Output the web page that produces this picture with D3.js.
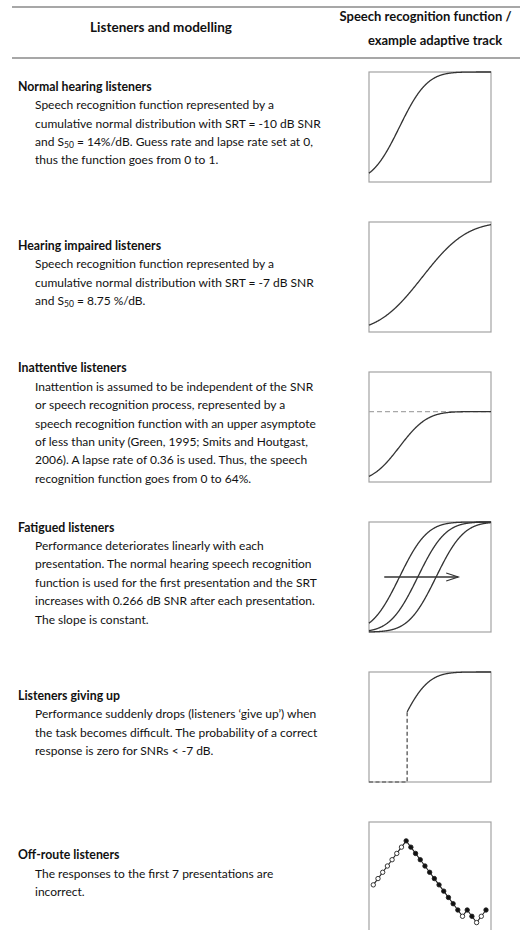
<!DOCTYPE html>
<html><head><meta charset="utf-8">
<script src="https://cdn.jsdelivr.net/npm/d3@7"></script>
<style>html,body{margin:0;padding:0;background:#fff}</style>
</head><body><svg id="chart" width="520" height="930"></svg>
<script>
// ---------- content ----------
const headerLeft = "Listeners and modelling";
const headerRight = ["Speech recognition function /", "example adaptive track"];

const panelTitles = [
  "Normal hearing listeners",
  "Hearing impaired listeners",
  "Inattentive listeners",
  "Fatigued listeners",
  "Listeners giving up",
  "Off-route listeners"
];
// "_50" marks a subscript
const panelBodies = [
  ["Speech recognition function represented by a",
   "cumulative normal distribution with SRT = -10 dB SNR",
   "and S_50 = 14%/dB. Guess rate and lapse rate set at 0,",
   "thus the function goes from 0 to 1."],
  ["Speech recognition function represented by a",
   "cumulative normal distribution with SRT = -7 dB SNR",
   "and S_50 = 8.75 %/dB."],
  ["Inattention is assumed to be independent of the SNR",
   "or speech recognition process, represented by a",
   "speech recognition function with an upper asymptote",
   "of less than unity (Green, 1995; Smits and Houtgast,",
   "2006). A lapse rate of 0.36 is used. Thus, the speech",
   "recognition function goes from 0 to 64%."],
  ["Performance deteriorates linearly with each",
   "presentation. The normal hearing speech recognition",
   "function is used for the first presentation and the SRT",
   "increases with 0.266 dB SNR after each presentation.",
   "The slope is constant."],
  ["Performance suddenly drops (listeners \u2018give up\u2019) when",
   "the task becomes difficult. The probability of a correct",
   "response is zero for SNRs < -7 dB."],
  ["The responses to the first 7 presentations are",
   "incorrect."]
];

// ---------- model parameters ----------
const snrDomain = [-14, 2];            // dB SNR shown in the function panels
const normalSRT = -10, normalSlope = 0.14;
const impairedSRT = -7, impairedSlope = 0.0875;
const lapseRate = 0.36;
const fatigueSRTs = [-10, -7.6, -5.2]; // presentations 1, 10, 19
const fatigueArrow = [-12, -2.3];      // dB SNR span of the arrow
const giveUpDomain = [-12, 4];
const giveUpSRT = -8, giveUpCutoff = -7;

// adaptive track: SNR per presentation (dB) and response (1 = correct)
const trackSNR = [0, 2, 4, 6, 8, 10, 12, 14, 12, 10, 8, 6, 4, 2, 0, -2, -4, -6, -8, -10, -8, -10, -12, -10, -8];
const trackCorrect = [0, 0, 0, 0, 0, 0, 0, 1, 1, 1, 1, 1, 1, 1, 1, 1, 1, 1, 1, 0, 1, 1, 0, 0, 1];
const trackSNRDomain = [-15, 20];

// ---------- layout ----------
const FONT = "Lato, 'Open Sans', sans-serif";
const boxX = 369, boxW = 122, boxH = 110, firstBoxTop = 72, pitch = 150;
const titleX = 18, bodyX = 35, lineH = 18.4;
const ink = "#111", curveInk = "#333", frameInk = "#a3a3a3";

const svg = d3.select("#chart");

// cumulative normal
function erf(x) {
  const s = Math.sign(x); x = Math.abs(x);
  const t = 1 / (1 + 0.3275911 * x);
  const y = 1 - (((((1.061405429 * t - 1.453152027) * t) + 1.421413741) * t - 0.284496736) * t + 0.254829592) * t * Math.exp(-x * x);
  return s * y;
}
const sigmaFromSlope = s => 1 / (s * Math.sqrt(2 * Math.PI));
const srf = (srt, slope, upper = 1) => x => upper * 0.5 * (1 + erf((x - srt) / (sigmaFromSlope(slope) * Math.SQRT2)));

// ---------- header ----------
svg.append("line").attr("x1", 12).attr("x2", 520).attr("y1", 7).attr("y2", 7)
  .attr("stroke", "#8a8a8a").attr("stroke-width", 1.6);
svg.append("line").attr("x1", 12).attr("x2", 520).attr("y1", 58).attr("y2", 58)
  .attr("stroke", "#8a8a8a").attr("stroke-width", 1.6);
svg.append("text").attr("x", 161).attr("y", 31.5).attr("text-anchor", "middle")
  .attr("font-family", FONT).attr("font-weight", 700).attr("font-size", 13.5).attr("fill", ink)
  .text(headerLeft);
svg.selectAll("text.hr").data(headerRight).join("text").attr("class", "hr")
  .attr("x", (d, i) => i === 0 ? 425.5 : 435).attr("y", (d, i) => 20.5 + i * 24)
  .attr("text-anchor", "middle")
  .attr("font-family", FONT).attr("font-weight", 700).attr("font-size", 13).attr("fill", ink)
  .text(d => d);

// ---------- text blocks ----------
function addLine(g, str, x, y, bold) {
  const t = g.append("text").attr("x", x).attr("y", y)
    .attr("font-family", FONT).attr("font-size", bold ? 12.3 : 12).attr("fill", ink)
    .attr("font-weight", bold ? 700 : 400);
  const parts = str.split(/_(\d+)/);
  parts.forEach((p, i) => {
    if (i % 2 === 1) {
      t.append("tspan").attr("font-size", 8.5).attr("dy", 2).text(p);
    } else if (p.length) {
      const ts = t.append("tspan").text(p);
      if (i > 0) ts.attr("dy", -2);
    }
  });
}

panelTitles.forEach((title, i) => {
  const cy = firstBoxTop + i * pitch + boxH / 2;
  const lines = [title].concat(panelBodies[i]);
  const y0 = cy - (lines.length - 1) * lineH / 2 + 0.5;
  const g = svg.append("g");
  lines.forEach((ln, j) => addLine(g, ln, j === 0 ? titleX : bodyX, y0 + j * lineH, j === 0));
});

// ---------- panels ----------
function panel(i, xDomain, yDomain = [0, 1]) {
  const top = firstBoxTop + i * pitch;
  const g = svg.append("g");
  g.append("rect").attr("x", boxX).attr("y", top).attr("width", boxW).attr("height", boxH)
    .attr("fill", "none").attr("stroke", frameInk).attr("stroke-width", 1.2);
  const x = d3.scaleLinear().domain(xDomain).range([boxX, boxX + boxW]);
  const y = d3.scaleLinear().domain(yDomain).range([top + boxH, top]);
  return { g, x, y };
}
function drawFn(p, f, from, to, attrs = {}) {
  const xs = d3.range(from, to, 0.05).concat([to]);
  const path = p.g.append("path")
    .attr("d", d3.line().x(v => p.x(v)).y(v => p.y(f(v)))(xs))
    .attr("fill", "none").attr("stroke", curveInk).attr("stroke-width", 1.3);
  Object.entries(attrs).forEach(([k, v]) => path.attr(k, v));
  return path;
}

// 1 normal hearing
{
  const p = panel(0, snrDomain);
  drawFn(p, srf(normalSRT, normalSlope), snrDomain[0], snrDomain[1]);
}
// 2 hearing impaired
{
  const p = panel(1, snrDomain);
  drawFn(p, srf(impairedSRT, impairedSlope), snrDomain[0], snrDomain[1]);
}
// 3 inattentive
{
  const p = panel(2, snrDomain);
  p.g.append("line").attr("x1", p.x(snrDomain[0])).attr("x2", p.x(snrDomain[1]))
    .attr("y1", p.y(1 - lapseRate)).attr("y2", p.y(1 - lapseRate))
    .attr("stroke", "#a8a8a8").attr("stroke-width", 1.3).attr("stroke-dasharray", "5,3");
  drawFn(p, srf(normalSRT, normalSlope, 1 - lapseRate), snrDomain[0], snrDomain[1]);
}
// 4 fatigued
{
  const p = panel(3, snrDomain);
  fatigueSRTs.forEach(s => drawFn(p, srf(s, normalSlope), snrDomain[0], snrDomain[1]));
  const ay = p.y(0.5), ax0 = p.x(fatigueArrow[0]), ax1 = p.x(fatigueArrow[1]);
  p.g.append("line").attr("x1", ax0).attr("x2", ax1).attr("y1", ay).attr("y2", ay)
    .attr("stroke", curveInk).attr("stroke-width", 1.3);
  p.g.append("path").attr("d", `M${ax1 - 12},${ay - 4}L${ax1},${ay}L${ax1 - 12},${ay + 4}`)
    .attr("fill", "none").attr("stroke", curveInk).attr("stroke-width", 1.2);
}
// 5 giving up
{
  const p = panel(4, giveUpDomain);
  const f = srf(giveUpSRT, normalSlope);
  p.g.append("path")
    .attr("d", d3.line().x(d => p.x(d[0])).y(d => p.y(d[1]))([
      [giveUpDomain[0], 0], [giveUpCutoff, 0], [giveUpCutoff, f(giveUpCutoff)]
    ]))
    .attr("fill", "none").attr("stroke", "#444").attr("stroke-width", 1.2).attr("stroke-dasharray", "4,2.5");
  drawFn(p, f, giveUpCutoff, giveUpDomain[1]);
}
// 6 off-route adaptive track
{
  const p = panel(5, [0, 1], trackSNRDomain);
  const tx = d3.scaleLinear().domain([0, trackSNR.length - 1]).range([boxX + 4.3, boxX + boxW - 5]);
  const pts = trackSNR.map((v, i) => [tx(i), p.y(v), trackCorrect[i]]);
  p.g.append("path").attr("d", d3.line()(pts.map(d => [d[0], d[1]])))
    .attr("fill", "none").attr("stroke", "#222").attr("stroke-width", 1.1);
  p.g.selectAll("circle").data(pts).join("circle")
    .attr("cx", d => d[0]).attr("cy", d => d[1]).attr("r", 2.2)
    .attr("fill", d => d[2] ? "#111" : "#fff")
    .attr("stroke", "#222").attr("stroke-width", 0.9);
}
</script>
</body></html>
